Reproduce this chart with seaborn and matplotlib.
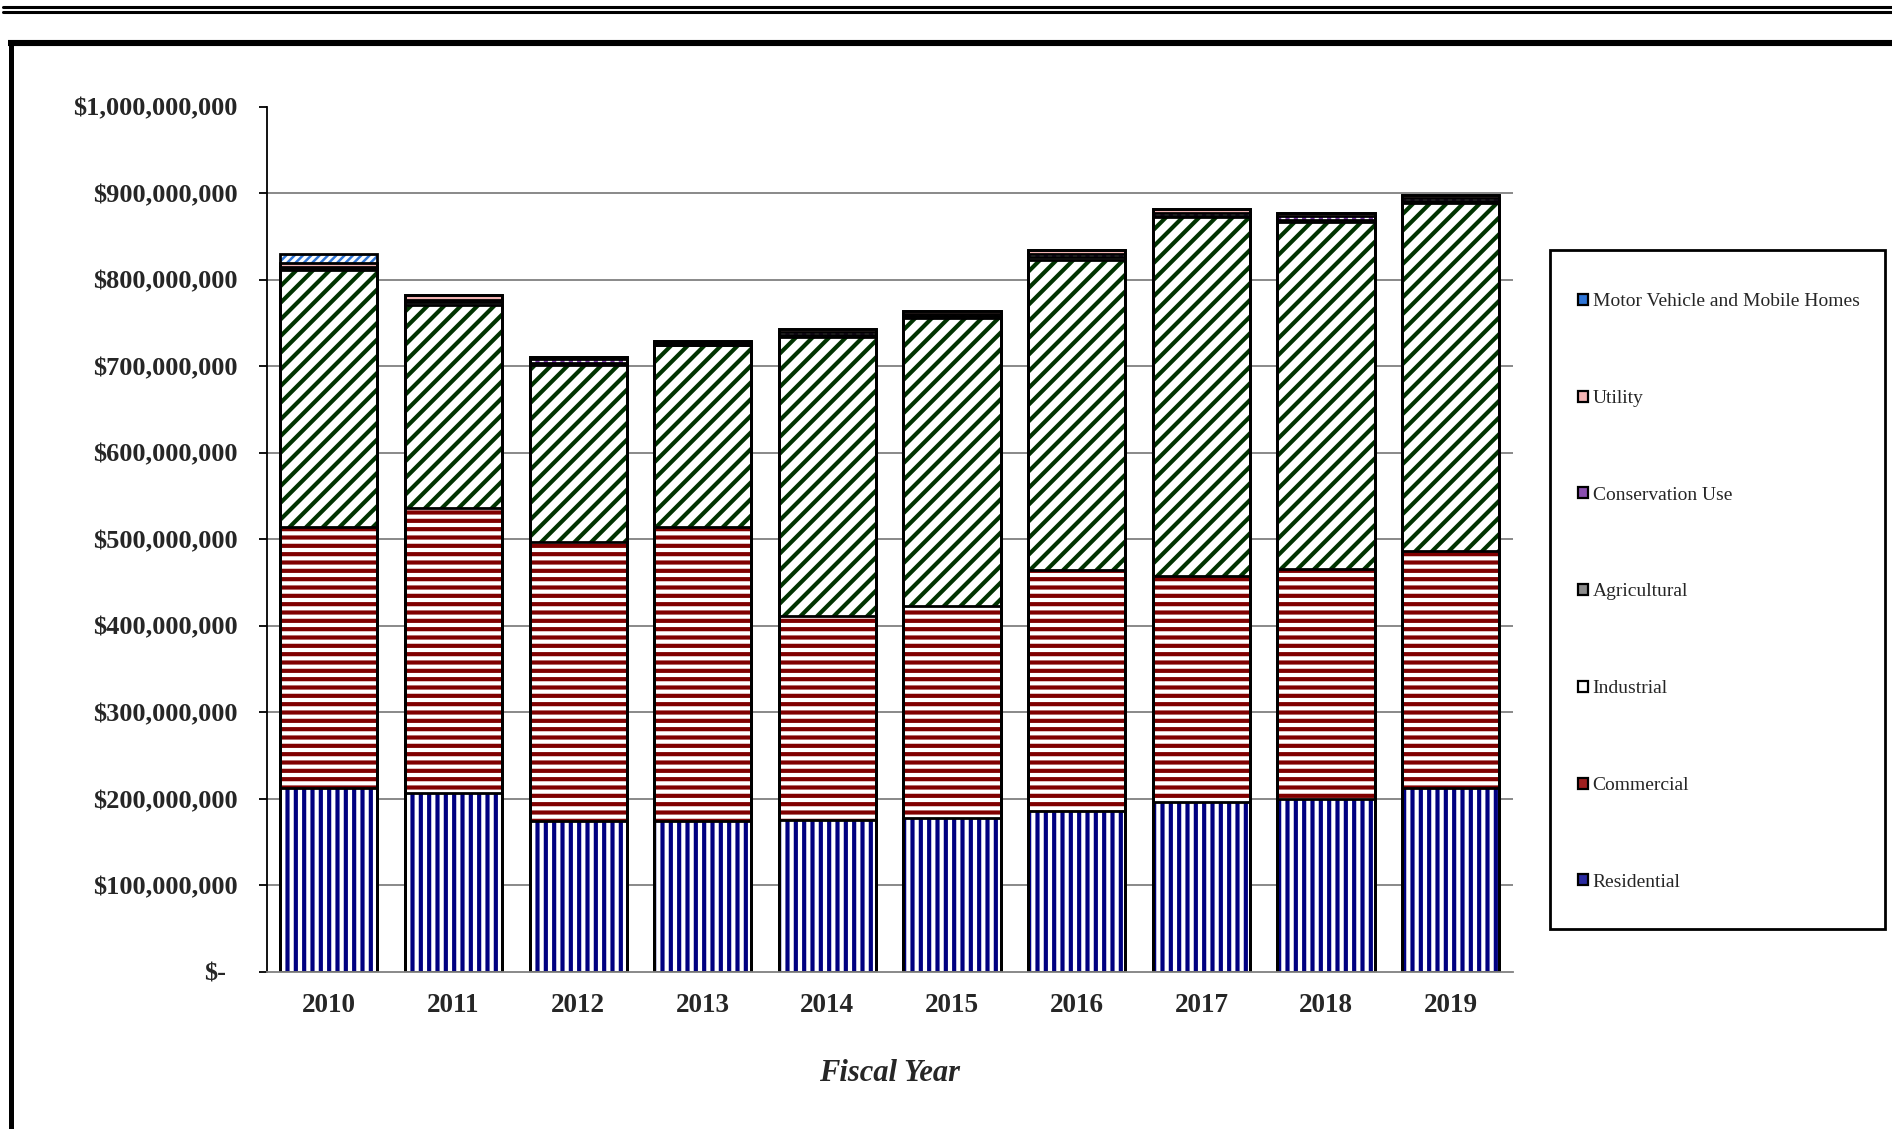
import numpy as np
import pandas as pd
import seaborn as sns
import matplotlib
matplotlib.use("Agg")
import matplotlib.pyplot as plt
import matplotlib.transforms as mtransforms
from matplotlib.lines import Line2D
from matplotlib.patches import Patch, Rectangle
from matplotlib.ticker import FixedLocator, FuncFormatter

# ---- data (millions of dollars) ----
years = ["2010", "2011", "2012", "2013", "2014", "2015", "2016", "2017", "2018", "2019"]
residential = [213, 207, 174, 175, 176, 178, 186, 196, 200, 213]
commercial = [301, 329, 323, 339, 235, 245, 279, 262, 266, 273]
industrial = [297, 235, 204, 210, 323, 333, 358, 414, 400, 403]
agricultural = [2, 3, 3, 1, 2, 2, 3, 2, 3, 2]
conservation_use = [2, 3, 4, 2, 3, 2, 4, 3, 4, 3]
utility = [4, 5, 2, 2, 4, 4, 4, 5, 4, 4]
motor_vehicle = [11, 0, 0, 0, 0, 0, 0, 0, 0, 0]

series_names = ["Residential", "Commercial", "Industrial", "Agricultural",
                "Conservation Use", "Utility", "Motor Vehicle and Mobile Homes"]
series_values = [residential, commercial, industrial, agricultural,
                 conservation_use, utility, motor_vehicle]

# fill styles: (face, hatch colour, hatch pattern)
styles = {
    "Residential": ("white", "#000080", "||"),
    "Commercial": ("white", "#800000", "--"),
    "Industrial": ("white", "#003300", "//"),
    "Agricultural": ("#808080", "#808080", None),
    "Conservation Use": ("white", "#7030a0", "||"),
    "Utility": ("#f4b4b4", "#f4b4b4", None),
    "Motor Vehicle and Mobile Homes": ("white", "#2f75d6", "////"),
}
legend_faces = {
    "Residential": "#2a2aa0",
    "Commercial": "#a02020",
    "Industrial": "white",
    "Agricultural": "#8c8c8c",
    "Conservation Use": "#8a4fb0",
    "Utility": "#f4b4b4",
    "Motor Vehicle and Mobile Homes": "#2f75d6",
}

sns.set_style("white")
plt.rcParams["font.family"] = ["Liberation Serif", "DejaVu Serif"]
plt.rcParams["hatch.linewidth"] = 3.0

W, H = 1892, 1129
fig = plt.figure(figsize=(W / 100, H / 100), dpi=100)
ax = fig.add_axes([266.5 / W, 1 - 972 / H, (1513 - 266.5) / W, (972 - 106.5) / H])

df = pd.DataFrame({name: np.array(vals) * 1e6 for name, vals in zip(series_names, series_values)})
df["Year"] = years
cum = df[series_names].cumsum(axis=1)

bar_width = 0.78

# stacked fills: tallest cumulative first, lower levels painted over it
for name in reversed(series_names):
    face, hcol, hatch = styles[name]
    n0 = len(ax.patches)
    sns.barplot(x=df["Year"], y=cum[name], color="white", saturation=1,
                width=bar_width, errorbar=None, ax=ax)
    for p in ax.patches[n0:]:
        p.set_facecolor(face)
        p.set_edgecolor(hcol)
        p.set_linewidth(0)
        if hatch:
            p.set_hatch(hatch)
            if name == "Motor Vehicle and Mobile Homes" and hasattr(p, "set_hatch_linewidth"):
                p.set_hatch_linewidth(1.8)

# segment outlines
for name in reversed(series_names):
    n0 = len(ax.patches)
    sns.barplot(x=df["Year"], y=cum[name], color="white", saturation=1,
                width=bar_width, errorbar=None, ax=ax)
    for p in ax.patches[n0:]:
        p.set_facecolor("none")
        p.set_edgecolor("black")
        p.set_linewidth(2.0)
        p.set_hatch(None)

# axes styling
ax.set_xlim(-0.5, 9.5)
ax.set_ylim(0, 1e9)
ax.set_axisbelow(True)
ax.yaxis.set_major_locator(FixedLocator(np.arange(0, 1.0e9 + 1, 1e8)))
ax.yaxis.set_major_formatter(FuncFormatter(lambda v, pos: "$-" if v == 0 else f"${v:,.0f}"))
ax.yaxis.grid(True, color="#808080", linewidth=1.3)
ax.xaxis.grid(False)
ax.yaxis.get_major_ticks()[-1].gridline.set_visible(False)
ax.yaxis.get_major_ticks()[0].gridline.set_visible(False)

ax.set_xticks(range(len(years)))
ax.set_xticklabels(years)
ax.set_xticks(np.arange(-0.5, 10, 1), minor=True)
ax.tick_params(axis="x", which="major", length=0, pad=15, labelsize=19.5)
ax.tick_params(axis="x", which="minor", length=6, width=1.3, color="#808080", direction="out")
ax.tick_params(axis="y", which="major", length=6, width=1.3, color="black",
               direction="out", pad=15, labelsize=19, left=True)
for lab in ax.get_xticklabels() + ax.get_yticklabels():
    lab.set_fontweight("bold")

for side in ("top", "right"):
    ax.spines[side].set_visible(False)
ax.spines["left"].set_color("black")
ax.spines["left"].set_linewidth(1.3)
ax.spines["bottom"].set_color("#808080")
ax.spines["bottom"].set_linewidth(1.3)

ax.set_ylabel("")
ax.set_xlabel("Fiscal Year", fontsize=22, fontweight="bold", fontstyle="italic", labelpad=29.5)

# nudge the zero label to line up like an accounting format
zero_lab = ax.yaxis.get_major_ticks()[0].label1
zero_lab.set_transform(zero_lab.get_transform() +
                       mtransforms.ScaledTranslation(-11 / 100, 0, fig.dpi_scale_trans))


def fx(x):
    return x / W


def fy(y):
    return 1 - y / H


# legend box (drawn beneath the axes layer), then the entries inside it
fig.add_artist(Rectangle((fx(1550), fy(929)), fx(1885) - fx(1550), fy(250) - fy(929),
                         transform=fig.transFigure, facecolor="white", edgecolor="black",
                         linewidth=2.0, zorder=-1))
handles = [Patch(facecolor=legend_faces[n], edgecolor="black", linewidth=1.6)
           for n in reversed(series_names)]
leg = ax.legend(handles, list(reversed(series_names)), loc="center left",
                bbox_to_anchor=(fx(1578), fy(592)), bbox_transform=fig.transFigure,
                borderaxespad=0, borderpad=0, frameon=False,
                labelspacing=4.1, handlelength=0.5, handleheight=0.5,
                handletextpad=0.25, prop={"family": "Liberation Serif", "size": 14})

# page rules and frame
for yy in (7.0, 12.3):
    fig.add_artist(Line2D([fx(3), fx(W)], [fy(yy), fy(yy)], color="black",
                          linewidth=2.2, transform=fig.transFigure))
fig.add_artist(Line2D([fx(8), fx(W)], [fy(43), fy(43)], color="black",
                      linewidth=4.4, transform=fig.transFigure, solid_capstyle="butt"))
fig.add_artist(Line2D([fx(10.5), fx(10.5)], [fy(41), fy(H)], color="black",
                      linewidth=3.6, transform=fig.transFigure, solid_capstyle="butt"))

fig.savefig("out.png", dpi=100)
